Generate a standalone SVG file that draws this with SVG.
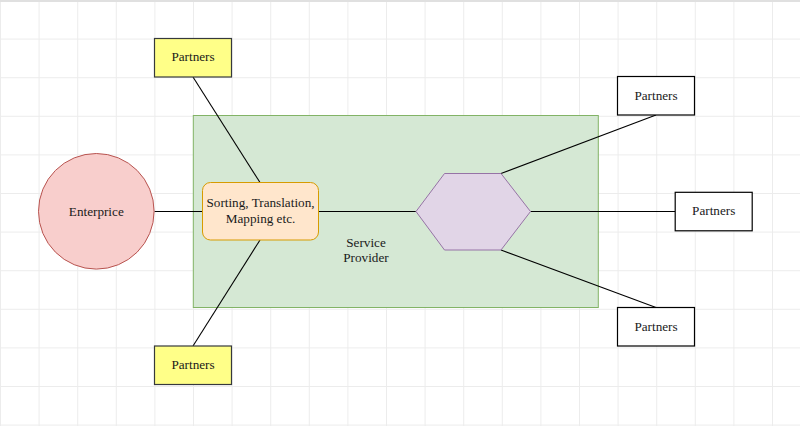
<svg xmlns="http://www.w3.org/2000/svg" width="800" height="426" viewBox="0 0 800 426">
<defs>
<pattern id="grid" x="0" y="0" width="38.6" height="38.6" patternUnits="userSpaceOnUse">
<path d="M0 0.5H38.6M0.5 0V38.6" fill="none" stroke="#ececec" stroke-width="1"/>
</pattern>
<style>
.t{font-family:"Liberation Serif","Times New Roman",serif;font-size:13.2px;fill:#1a1a1a;text-anchor:middle;dominant-baseline:central}
.yel{fill:#ffff88;stroke:#36393d;stroke-width:1.2}
.wht{fill:#ffffff;stroke:#000000;stroke-width:1.2}
.ln{stroke:#000000;stroke-width:1.1;fill:none}
</style>
</defs>
<rect width="800" height="426" fill="#ffffff"/>
<rect width="800" height="426" fill="url(#grid)"/>
<rect x="0" y="0" width="800" height="2" fill="#e0e0e0"/>
<g id="service-provider">
<rect x="193.3" y="115.5" width="405" height="192" fill="#d5e8d4" stroke="#82b366" stroke-width="1"/>
<text class="t" x="366" y="242">Service</text>
<text class="t" x="366" y="257">Provider</text>
</g>
<g id="connectors">
<line class="ln" x1="193" y1="77" x2="260" y2="182.5"/>
<line class="ln" x1="193" y1="346" x2="260" y2="240"/>
<line class="ln" x1="154.5" y1="211.5" x2="202.5" y2="211.5"/>
<line class="ln" x1="318.5" y1="211.5" x2="416" y2="211.5"/>
<line class="ln" x1="530.5" y1="211.5" x2="675" y2="211.5"/>
<line class="ln" x1="501" y1="173.5" x2="656" y2="115"/>
<line class="ln" x1="501" y1="250" x2="656" y2="307.5"/>
</g>
<g id="enterprice">
<circle cx="96.3" cy="211.3" r="57.8" fill="#f8cecc" stroke="#b85450" stroke-width="1"/>
<text class="t" x="96.3" y="211.5">Enterprice</text>
</g>
<g id="sorting">
<rect x="202.5" y="182.5" width="116" height="57.5" rx="8" fill="#ffe6cc" stroke="#d79b00" stroke-width="1"/>
<text class="t" x="260.5" y="202.5">Sorting, Translation,</text>
<text class="t" x="260.5" y="218.7">Mapping etc.</text>
</g>
<g id="hub">
<polygon points="416,211.5 444.5,173.5 501,173.5 530.5,211.5 501,250 444.5,250" fill="#e1d5e7" stroke="#9673a6" stroke-width="1"/>
</g>
<g id="partners-top-left">
<rect class="yel" x="154.5" y="38.5" width="77" height="38.5"/>
<text class="t" x="193" y="56.5">Partners</text>
</g>
<g id="partners-bottom-left">
<rect class="yel" x="154.5" y="346" width="77" height="38.5"/>
<text class="t" x="193" y="364.5">Partners</text>
</g>
<g id="partners-top-right">
<rect class="wht" x="617.5" y="76.5" width="77" height="38.5"/>
<text class="t" x="656" y="95">Partners</text>
</g>
<g id="partners-mid-right">
<rect class="wht" x="675.2" y="192.3" width="77" height="38.5"/>
<text class="t" x="713.7" y="210.8">Partners</text>
</g>
<g id="partners-bottom-right">
<rect class="wht" x="617.5" y="307.5" width="77" height="38.5"/>
<text class="t" x="656" y="326">Partners</text>
</g>
</svg>
